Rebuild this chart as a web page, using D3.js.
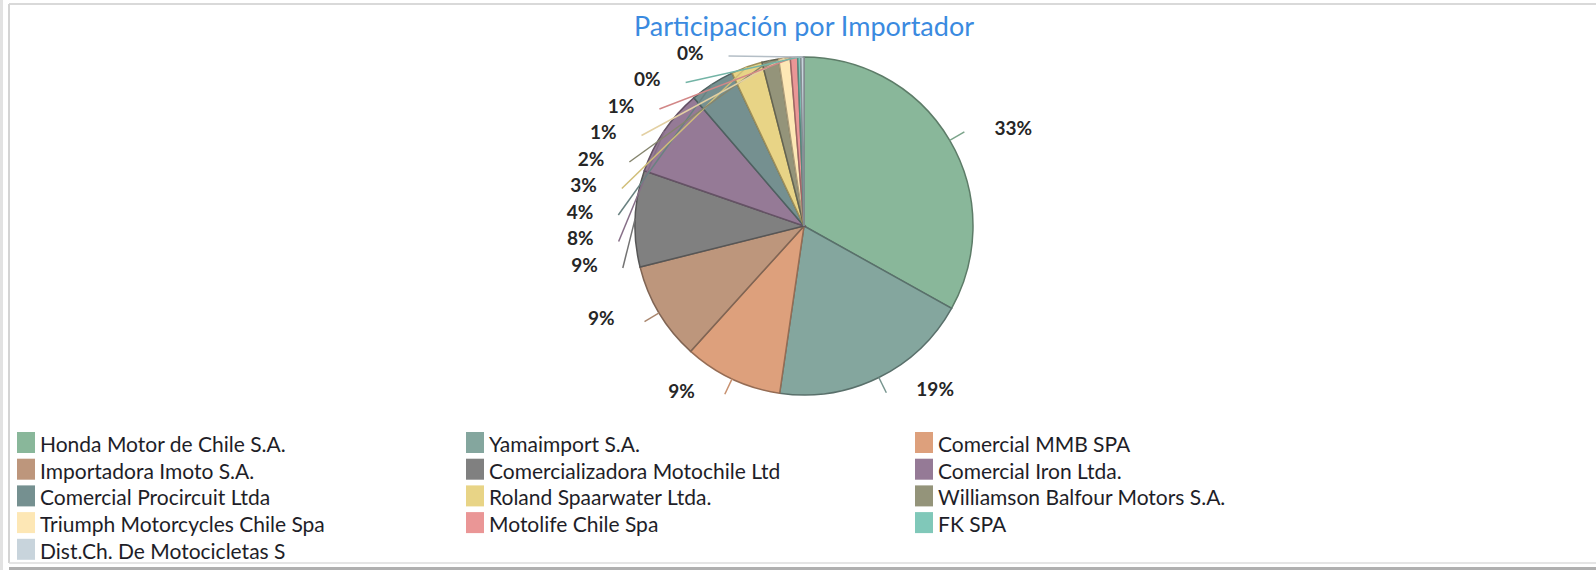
<!DOCTYPE html>
<html>
<head>
<meta charset="utf-8">
<script src="https://cdn.jsdelivr.net/npm/d3@7"></script>
<style>
  body { margin: 0; background: #fff; }
  svg { display: block; font-family: Lato, 'Open Sans', sans-serif; }
</style>
</head>
<body>
<div id="chart"></div>
<script>
var importers = [
  'Honda Motor de Chile S.A.',
  'Yamaimport S.A.',
  'Comercial MMB SPA',
  'Importadora Imoto S.A.',
  'Comercializadora Motochile Ltd',
  'Comercial Iron Ltda.',
  'Comercial Procircuit Ltda',
  'Roland Spaarwater Ltda.',
  'Williamson Balfour Motors S.A.',
  'Triumph Motorcycles Chile Spa',
  'Motolife Chile Spa',
  'FK SPA',
  'Dist.Ch. De Motocicletas S'
]
var shares = [33.1, 19.2, 9.4, 9.4, 9.2, 8.4, 4.3, 3.0, 1.6, 1.1, 0.7, 0.3, 0.3]
var palette = [
  '#89b79a', '#84a69e', '#dda07c', '#bd967c', '#808080', '#957a96', '#759090',
  '#e8d486', '#94947a', '#fde7b5', '#ea9696', '#80c8b9', '#c8d4dc'
]

var width = 1596
var height = 570
var cx = 804
var cy = 226
var radius = 169

var svg = d3.select('#chart')
  .append('svg')
  .attr('width', width)
  .attr('height', height)

// frame round the chart area
svg.append('rect').attr('x', 0).attr('y', 0).attr('width', 3).attr('height', height).attr('fill', '#e2e2e2')
svg.append('line').attr('x1', 9).attr('y1', 4).attr('x2', width).attr('y2', 4).attr('stroke', '#d9d9d9').attr('stroke-width', 2)
svg.append('line').attr('x1', 9).attr('y1', 4).attr('x2', 9).attr('y2', 563).attr('stroke', '#d4d4d4').attr('stroke-width', 2)
svg.append('line').attr('x1', 9).attr('y1', 563).attr('x2', width).attr('y2', 563).attr('stroke', '#dcdcdc').attr('stroke-width', 1.5)
svg.append('rect').attr('x', 9).attr('y', 567).attr('width', width).attr('height', 3).attr('fill', '#b0b0b0')

// title
svg.append('text')
  .attr('x', cx)
  .attr('y', 36)
  .attr('text-anchor', 'middle')
  .attr('font-size', '27px')
  .attr('fill', '#3a8ae0')
  .text('Participación por Importador')

var pie = d3.pie().sort(null).value(d => d)
var arcs = pie(shares)
var total = d3.sum(shares)
var pct = d3.format('.0%')

var arc = d3.arc().innerRadius(0).outerRadius(radius)

var g = svg.append('g').attr('transform', 'translate(' + cx + ',' + cy + ')')

g.selectAll('path.slice')
  .data(arcs)
  .enter()
  .append('path')
  .attr('class', 'slice')
  .attr('d', arc)
  .attr('fill', (d, i) => palette[i])
  .attr('stroke', (d, i) => d3.color(palette[i]).darker(1.1))
  .attr('stroke-width', 1.5)

// label layout: right/bottom slices sit beside their slice, the small
// upper-left ones get stacked in a column down the left side
var lineR = radius + 17
var firstStacked = arcs.findIndex(d => (d.startAngle + d.endAngle) / 2 > 1.5 * Math.PI)

function pt(a, r) {
  return [r * Math.sin(a), -r * Math.cos(a)]
}

var labels = arcs.map((d, i) => {
  var mid = (d.startAngle + d.endAngle) / 2
  var start = pt(mid, radius)
  var end
  var gap = 25
  if (i >= firstStacked) {
    var dy = 42 - 26.5 * (i - firstStacked)
    end = [-Math.sqrt(lineR * lineR - dy * dy), dy]
  } else {
    end = pt(mid, lineR)
    gap = 30
  }
  var left = end[0] < 0
  return {
    start: start,
    end: end,
    tx: end[0] + (left ? -gap : gap),
    ty: end[1] - 4,
    anchor: left ? 'end' : 'start',
    text: pct(d.value / total),
    color: palette[i]
  }
})

g.selectAll('line.leader')
  .data(labels)
  .enter()
  .append('line')
  .attr('class', 'leader')
  .attr('x1', d => d.start[0])
  .attr('y1', d => d.start[1])
  .attr('x2', d => d.end[0])
  .attr('y2', d => d.end[1])
  .attr('stroke', d => d3.color(d.color).darker(0.3))
  .attr('stroke-width', 1.5)

g.selectAll('text.lbl')
  .data(labels)
  .enter()
  .append('text')
  .attr('class', 'lbl')
  .attr('x', d => d.tx)
  .attr('y', d => d.ty)
  .attr('text-anchor', d => d.anchor)
  .attr('dominant-baseline', 'central')
  .attr('font-size', '19px')
  .attr('font-weight', 'bold')
  .attr('fill', '#262626')
  .text(d => d.text)

// legend, three columns filled row by row
var legend = svg.append('g')
var item = legend.selectAll('g.item')
  .data(importers)
  .enter()
  .append('g')
  .attr('class', 'item')
  .attr('transform', (d, i) => 'translate(' + (17 + (i % 3) * 449) + ',' + (432 + Math.floor(i / 3) * 26.7) + ')')

item.append('rect')
  .attr('width', 18)
  .attr('height', 21)
  .attr('fill', (d, i) => palette[i])

item.append('text')
  .attr('x', 23)
  .attr('y', 11.5)
  .attr('dominant-baseline', 'central')
  .attr('font-size', '21px')
  .attr('fill', '#1e1e28')
  .text(d => d)
</script>
</body>
</html>
